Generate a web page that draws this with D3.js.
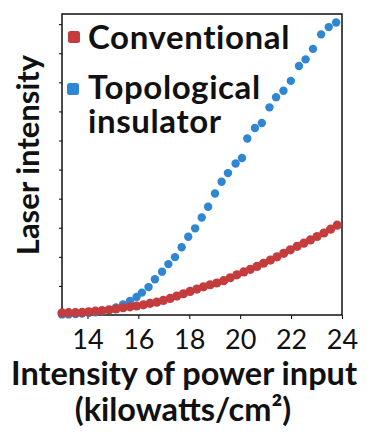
<!DOCTYPE html>
<html lang="en">
<meta charset="UTF-8">
<title>Laser intensity vs power input</title>
<script src="https://d3js.org/d3.v7.min.js"></script>
<style>
  html, body { margin: 0; padding: 0; background: #fff; }
  body { font-family: "Lato", sans-serif; }
</style>
<body>
<div id="my_dataviz"></div>
<script>

// x ticks on the power axis
var xTicks = [14, 16, 18, 20, 22, 24];
var yTicks = [0, 1, 2, 3, 4, 5, 6, 7, 8, 9, 10];

// topological insulator (blue)
var topoX = [13.00, 13.26, 13.53, 13.79, 14.05, 14.31, 14.57, 14.85, 15.12, 15.40,
             15.67, 15.93, 16.14, 16.40, 16.65, 16.93, 17.18, 17.44, 17.70, 17.96,
             18.23, 18.49, 18.74, 19.01, 19.27, 19.52, 19.82, 20.07, 20.28, 20.58,
             20.85, 21.15, 21.41, 21.70, 21.99, 22.31, 22.57, 22.86, 23.18, 23.48, 23.77];
var topoY = [0.02, 0.02, 0.03, 0.05, 0.07, 0.09, 0.13, 0.17, 0.26, 0.36,
             0.48, 0.62, 0.77, 0.96, 1.23, 1.49, 1.75, 1.99, 2.33, 2.69,
             2.98, 3.35, 3.72, 4.18, 4.58, 4.88, 5.21, 5.40, 6.07, 6.43,
             6.60, 7.14, 7.49, 7.71, 8.05, 8.56, 8.79, 9.15, 9.65, 9.90, 10.06];

// conventional (red)
var convX = [13.00, 13.26, 13.53, 13.79, 14.05, 14.31, 14.57, 14.85, 15.12, 15.40,
             15.67, 15.93, 16.20, 16.46, 16.72, 16.98, 17.25, 17.51, 17.77, 18.03,
             18.30, 18.56, 18.82, 19.08, 19.35, 19.61, 19.87, 20.14, 20.40, 20.66,
             20.92, 21.19, 21.45, 21.71, 21.97, 22.24, 22.50, 22.76, 23.02, 23.29,
             23.55, 23.81];
var convY = [0.07, 0.08, 0.08, 0.09, 0.11, 0.13, 0.15, 0.18, 0.21, 0.25,
             0.28, 0.31, 0.35, 0.40, 0.44, 0.50, 0.57, 0.65, 0.73, 0.81,
             0.89, 0.97, 1.04, 1.10, 1.18, 1.28, 1.38, 1.48, 1.57, 1.67,
             1.78, 1.89, 2.00, 2.12, 2.24, 2.36, 2.47, 2.58, 2.70, 2.82,
             2.95, 3.09];

var legendNames = ["Conventional", "Topological", "insulator"];
var xLabel = "Intensity of power input";
var xUnit = "(kilowatts/cm²)";
var yLabel = "Laser intensity";

var blue = "#2f86d3";
var red = "#c43c3d";

var margin = {top: 14, right: 28, bottom: 128, left: 62},
    width = 370 - margin.left - margin.right,
    height = 443 - margin.top - margin.bottom;

var svg = d3.select("#my_dataviz")
  .append("svg")
    .attr("width", 370)
    .attr("height", 443)
  .append("g")
    .attr("transform", "translate(" + margin.left + "," + margin.top + ")");

var x = d3.scaleLinear().domain([13, 24]).range([0, width]);
var y = d3.scaleLinear().domain([0, 10.35]).range([height, 0]);

// axes
var xAxis = svg.append("g")
  .attr("transform", "translate(0," + height + ")")
  .call(d3.axisBottom(x).tickValues(xTicks).tickSize(4).tickSizeOuter(0).tickPadding(12));
xAxis.select(".domain").remove();
xAxis.selectAll("text")
  .style("font-family", "Lato, sans-serif")
  .style("font-size", "27px")
  .attr("dy", "0.68em")
  .attr("fill", "#111");

var yAxis = svg.append("g")
  .call(d3.axisLeft(y).tickValues(yTicks).tickSize(3).tickSizeOuter(0).tickFormat(""));
yAxis.select(".domain").remove();

// frame
svg.append("rect")
  .attr("width", width)
  .attr("height", height)
  .attr("fill", "none")
  .attr("stroke", "#111")
  .attr("stroke-width", 1.5);

var topo = topoX.map(function(v, i) { return {x: v, y: topoY[i]}; });
var conv = convX.map(function(v, i) { return {x: v, y: convY[i]}; });

svg.append("g").selectAll("circle")
  .data(topo)
  .enter().append("circle")
    .attr("cx", function(d) { return x(d.x); })
    .attr("cy", function(d) { return y(d.y); })
    .attr("r", 4.2)
    .style("fill", blue);

svg.append("g").selectAll("circle")
  .data(conv)
  .enter().append("circle")
    .attr("cx", function(d) { return x(d.x); })
    .attr("cy", function(d) { return y(d.y); })
    .attr("r", 4.6)
    .style("fill", red);

// legend
svg.append("rect")
  .attr("x", 6).attr("y", 17).attr("width", 12).attr("height", 12)
  .attr("rx", 2.5).attr("fill", red);
svg.append("rect")
  .attr("x", 5).attr("y", 69).attr("width", 12).attr("height", 12)
  .attr("rx", 2.5).attr("fill", blue);

var leg = svg.append("g")
  .style("font-family", "Lato, sans-serif")
  .style("font-weight", "bold")
  .style("font-size", "33px")
  .style("letter-spacing", "0.6px")
  .attr("fill", "#111");
leg.append("text").attr("x", 26).attr("y", 35).text(legendNames[0]);
leg.append("text").attr("x", 26).attr("y", 85).text(legendNames[1]);
leg.append("text").attr("x", 26).attr("y", 119).text(legendNames[2]);

// x label
svg.append("text")
  .attr("x", 184 - margin.left)
  .attr("y", 385 - margin.top)
  .style("text-anchor", "middle")
  .style("font-family", "Lato, sans-serif")
  .style("font-weight", "bold")
  .style("font-size", "32.5px")
  .attr("fill", "#111")
  .text(xLabel);

svg.append("text")
  .attr("x", 183 - margin.left)
  .attr("y", 421 - margin.top)
  .style("text-anchor", "middle")
  .style("font-family", "Lato, sans-serif")
  .style("font-weight", "bold")
  .style("font-size", "32.5px")
  .attr("fill", "#111")
  .text(xUnit);

// y label
svg.append("text")
  .attr("transform", "rotate(-90)")
  .attr("x", -(155 - margin.top))
  .attr("y", 39 - margin.left)
  .style("text-anchor", "middle")
  .style("font-family", "Lato, sans-serif")
  .style("font-weight", "bold")
  .style("font-size", "31px")
  .attr("fill", "#111")
  .text(yLabel);

</script>
</body>
</html>
